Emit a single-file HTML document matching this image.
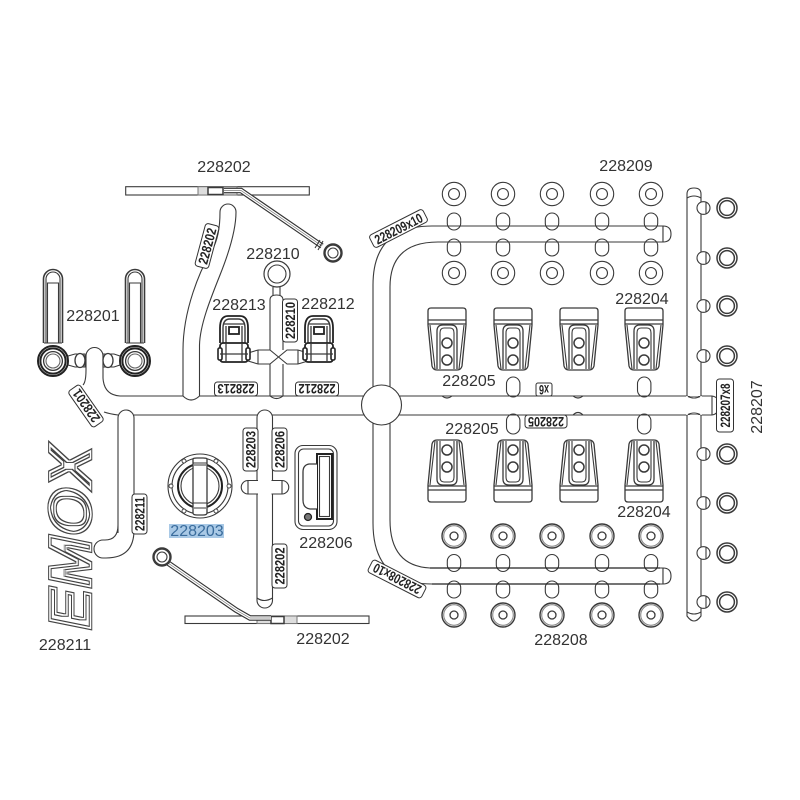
<!DOCTYPE html>
<html><head><meta charset="utf-8"><style>
html,body{margin:0;padding:0;background:#fff;width:800px;height:800px;overflow:hidden}
svg{display:block}
.s{fill:#fff;stroke:#3a3a3a;stroke-width:1.1}
.l{fill:none;stroke:#3a3a3a;stroke-width:1.1}
.t{font:16px "Liberation Sans",sans-serif;fill:#333;text-anchor:middle}
.b rect{fill:#fff;stroke:#333;stroke-width:1}
.b text{font:bold 13.5px "Liberation Sans",sans-serif;fill:#222;text-anchor:middle}
</style></head><body>
<svg width="800" height="800" viewBox="0 0 800 800" xmlns="http://www.w3.org/2000/svg">
<defs>
<filter id="o" x="-10%" y="-10%" width="120%" height="120%">
<feMorphology in="SourceGraphic" operator="erode" radius="0.8" result="a"/>
<feComposite in="SourceGraphic" in2="a" operator="out" result="r1"/>
<feMorphology in="SourceGraphic" operator="erode" radius="2.6" result="b"/>
<feMorphology in="SourceGraphic" operator="erode" radius="3.4" result="c"/>
<feComposite in="b" in2="c" operator="out" result="r2"/>
<feMerge><feMergeNode in="r1"/><feMergeNode in="r2"/></feMerge>
</filter>
<g id="ringT"><circle r="11.7" class="s"/><circle r="5.5" class="s"/></g>
<g id="ringB"><circle r="12" class="s" style="stroke-width:1.4"/><circle r="10.3" class="l" style="stroke:#888"/><circle r="4" class="s" style="stroke-width:1.3"/></g>
<rect id="nub" x="-6.7" y="0" width="13.4" height="17" rx="6.7" class="s"/>
<g id="ringR"><circle r="10" class="s" style="stroke-width:1.5"/><circle r="7.4" class="s" style="stroke-width:1.5"/></g>
<g id="nubR"><rect x="-7" y="-6.3" width="13" height="12.6" rx="6.3" class="s"/><path d="M2,-6 V6" class="l"/></g>
<g id="p204">
<path d="M-19,3 Q-19,0 -16,0 H16 Q19,0 19,3 V17 L15,58 Q14,62 10,62 H-10 Q-14,62 -15,58 L-19,17 Z" class="s" style="stroke-width:1.3"/>
<path d="M-19,12 H19 M-19,16 H19" class="l" style="stroke-width:1.3"/>
<path d="M-17,17 L-12,61 M17,17 L12,61" class="l"/>
<path d="M-10,61 V23 Q-10,17 -4,17 H4 Q10,17 10,23 V61" class="l" style="stroke-width:1.3"/>
<path d="M-7,61 V25 Q-7,20 -3,20 H3 Q7,20 7,25 V61" class="l"/>
<circle cy="35" r="5" class="s" style="stroke-width:1.5"/><circle cy="52" r="5" class="s" style="stroke-width:1.5"/>
</g>
<g id="node">
<path d="M-14,3 V-12 Q-14,-24 -6,-24 H6 Q14,-24 14,-12 V3" class="s" style="stroke-width:1.8;stroke:#222"/>
<path d="M-11,3 V-12 Q-11,-21 -4,-21 H4 Q11,-21 11,-12 V3" class="l" style="stroke-width:1.4"/>
<path d="M-8,3 V-14 M8,3 V-14 M-11,-16 H11" class="l" style="stroke-width:1.3"/>
<rect x="-5" y="-13" width="10" height="7" class="s" style="stroke-width:1.8;stroke:#222"/>
<rect x="-14" y="3" width="28" height="19" rx="3" class="s" style="stroke-width:1.8;stroke:#222"/>
<rect x="-16" y="8" width="4" height="12" rx="1.5" class="s" style="stroke-width:1.6;stroke:#222"/>
<rect x="12" y="8" width="4" height="12" rx="1.5" class="s" style="stroke-width:1.6;stroke:#222"/>
<path d="M-14,14 H14 M-8,3 V22 M8,3 V22" class="l" style="stroke-width:1.3"/>
</g>
<g id="rod">
<path d="M-9.5,-18 V-82 A9.5,9.5 0 0 1 9.5,-82 V-18" class="s" style="stroke-width:1.6"/>
<path d="M-7,-18 V-82 A7,7 0 0 1 7,-82 V-18" class="l"/>
<path d="M-5.5,-18 V-78 H5.500 V-18 M-9,-18 H9" class="l"/>
<circle r="15" class="s" style="stroke:#222;stroke-width:2"/>
<circle r="12.6" class="l" style="stroke:#222;stroke-width:2"/>
<circle r="9.4" class="s" style="stroke-width:1.3"/>
<circle r="7" class="s" style="stroke:#666"/>
</g>
</defs>

<!-- left / upper sprues -->
<path d="M86,358 V370 Q86,382 83,385 M103,362 V378 Q104,395 120,396 H372" class="l"/>
<path d="M104,412 Q110,414 118,415" class="l"/>
<path d="M134,415 H365 M399,396 H712 M399,415 H712" class="l"/>
<path d="M712,396 Q719,397 719,405 Q719,414 712,415 M712,396 V415" class="l"/>
<path d="M183,396 V350 C183,310 200,270 212,250 C218,240 220,225 220,212 A8,8 0 0 1 236,212 C236,230 228,255 220,275 C210,300 200,325 199.5,345 V396 Q191,404 183,396 Z" class="s"/>
<!-- J -->
<path d="M118,533 V418 A8,8 0 0 1 134,418 V530 Q134,558 106,558 H103 A9,9 0 0 1 103,540 H105 Q118,540 118,525" class="s"/>
<!-- centre vertical -->
<rect x="257" y="410" width="15.5" height="198" rx="7.7" class="s"/>
<path d="M257,598 Q264,603 272.500,598" class="l"/>
<path d="M258,480.500 H248 A6.500,6.500 0 0 0 248,494 H258 M271.500,480.500 H282 A6.500,6.500 0 0 1 282,494 H271.500 M248,480.500 V494 M282,480.500 V494" class="s"/>
<!-- 228210 sprue -->
<path d="M270,350 V300 Q270,295 276.500,295 Q283,295 283,300 V350 M270,364 V396 Q276.500,401 283,396 V364" class="l"/>
<path d="M258,350 H270 L287,364 H298 M258,364 H270 L287,350 H298 M258,350 V364 M298,350 V364 M248,353 L258,350 M248,361 L258,364 M298,350 L308,353 M298,364 L308,361" class="l"/>
<path d="M273,296 V287 M280,296 V287" class="l"/>
<circle cx="277" cy="274" r="13" class="s" style="stroke-width:1.2"/><circle cx="277" cy="274" r="9" class="s"/>
<use href="#node" x="234" y="340"/><use href="#node" x="319" y="340"/>
<!-- 228201 -->
<path d="M86,358 V356 A8.500,8.500 0 0 1 103,356 V360" class="s"/>
<path d="M68,356 L75,354 H85 V367 H75 L68,365 Z M103,354 H114 L120,356 V365 L114,367 H103 Z" class="s"/>
<ellipse cx="80" cy="360.500" rx="5" ry="7" class="s" style="stroke-width:1.3"/>
<ellipse cx="108" cy="360.500" rx="5" ry="7" class="s" style="stroke-width:1.3"/>
<use href="#rod" x="53" y="361"/><use href="#rod" x="135" y="361"/>

<!-- arms -->
<rect x="125.700" y="186.700" width="183.600" height="8.300" class="s"/>
<rect x="198" y="186.700" width="39" height="8.300" fill="#ddd" stroke="#777"/>
<rect x="208" y="187.500" width="15" height="7" class="s" style="stroke-width:1.5"/>
<path d="M224,190.500 H241 L322,246" fill="none" stroke="#333" stroke-width="5.6"/>
<path d="M224,190.500 H241 L322,246" fill="none" stroke="#fff" stroke-width="3.2"/>
<path d="M224,190.500 H241 L322,246" fill="none" stroke="#777" stroke-width="0.7"/>
<path d="M320,240 L315,248 M323,241 L318,250" class="l"/>
<circle cx="333" cy="253" r="8.500" class="s" style="stroke-width:2.4"/><circle cx="333" cy="253" r="5" class="s"/>
<rect x="185" y="616" width="184" height="7.500" class="s"/>
<rect x="257" y="616" width="40" height="7.500" fill="#ddd" stroke="#777"/>
<rect x="271" y="616.500" width="13" height="7" class="s" style="stroke-width:1.5"/>
<path d="M168,563 L236,610 L250,618 H271" fill="none" stroke="#333" stroke-width="5.6"/>
<path d="M168,563 L236,610 L250,618 H271" fill="none" stroke="#fff" stroke-width="3.2"/>
<path d="M168,563 L236,610 L250,618 H271" fill="none" stroke="#777" stroke-width="0.7"/>
<circle cx="162" cy="557" r="8.500" class="s" style="stroke-width:2.4"/><circle cx="162" cy="557" r="5" class="s"/>

<!-- 228203 part -->
<g transform="translate(200,486)">
<circle r="32" class="s"/><circle r="28" class="s"/>
<g class="s" style="stroke-width:.9"><circle cx="-29" r="2"/><circle cx="29" r="2"/><circle cx="-16" cy="-25" r="2"/><circle cx="16" cy="-25" r="2"/><circle cx="-16" cy="25" r="2"/><circle cx="16" cy="25" r="2"/></g>
<circle r="22" class="s" style="stroke:#222;stroke-width:2"/><circle r="19" class="l"/>
<path d="M-7,-27 Q-7,-28 -3,-28 H3 Q7,-28 7,-27 V27 Q7,29 3,29 H-3 Q-7,29 -7,27 Z" class="s" style="stroke-width:1.3"/>
<path d="M-7,-23 H7 M-6,-21 H6 M-6,22 H6 M-7,17 H7" class="l"/>
</g>
<!-- 228206 part -->
<rect x="295" y="445.500" width="42" height="84" rx="8" class="s"/>
<rect x="298.500" y="449" width="35" height="77" rx="5" class="s"/>
<rect x="317" y="454" width="15" height="65" class="s" style="stroke:#222;stroke-width:2"/>
<rect x="319.500" y="456.500" width="10" height="60" class="l"/>
<path d="M317,464 H309 Q303,465 303,472 V500 Q303,508 310,509 H317" class="s" style="stroke-width:1.3"/>
<circle cx="308" cy="517" r="3.500" fill="#777" stroke="#222" stroke-width="1.3"/>

<!-- right curved sprues -->
<path d="M373,392 V285 Q373,226 432,226 H663 V242 H438 Q390,242 390,287 V392" class="s"/>
<path d="M663,226 Q671,226 671,234 Q671,242 663,242 Z" class="s"/>
<path d="M373,420 V523 Q373,584 432,584 H663 V568 H430 Q390,566 390,520 V420" class="s"/>
<path d="M663,568 Q671,568 671,576 Q671,584 663,584 Z" class="s"/>
<!-- right vertical -->
<path d="M687,396 V194 Q687,188 694,188 Q701,188 701,194 V396 M687,415 V616 Q694,626 701,616 V415" class="s"/>
<path d="M687,198 Q694,194 701,198 M687,396 Q694,400 701,396 M687,415 Q694,411 701,415 M687,612 Q694,616 701,612" class="l"/>
<path d="M687,396 V415 M701,396 V415" stroke="#fff" stroke-width="1.5"/>
<!-- bumps main -->
<g class="l">
<path d="M442,396 Q447,400 452,396 M573,396 Q578,400 583,396"/>
<path d="M573,415 Q578,410 583,415"/>
</g>
<rect x="506.500" y="377" width="13.400" height="20" rx="6.7" class="s"/>
<rect x="637.500" y="377" width="13.400" height="20" rx="6.7" class="s"/>
<rect x="506.500" y="414" width="13.400" height="20" rx="6.7" class="s"/>
<rect x="637.500" y="414" width="13.400" height="20" rx="6.7" class="s"/>
<path d="M506.500,396 H520 M637.500,396 H651 M506.500,415 H520 M637.500,415 H651" class="l"/>
<circle cx="381.500" cy="405" r="20" class="s"/>

<!-- nubs -->
<use href="#nub" x="454" y="213"/><use href="#nub" x="503" y="213"/><use href="#nub" x="552" y="213"/><use href="#nub" x="602" y="213"/><use href="#nub" x="651" y="213"/>
<use href="#nub" x="454" y="239"/><use href="#nub" x="503" y="239"/><use href="#nub" x="552" y="239"/><use href="#nub" x="602" y="239"/><use href="#nub" x="651" y="239"/>
<use href="#nub" x="454" y="554.500"/><use href="#nub" x="503" y="554.500"/><use href="#nub" x="552" y="554.500"/><use href="#nub" x="602" y="554.500"/><use href="#nub" x="651" y="554.500"/>
<use href="#nub" x="454" y="581"/><use href="#nub" x="503" y="581"/><use href="#nub" x="552" y="581"/><use href="#nub" x="602" y="581"/><use href="#nub" x="651" y="581"/>
<path d="M432,226 H660 M438,242 H660" class="l"/>
<path d="M430,568 H660 M432,584 H660" class="l" style="stroke:#222;stroke-width:1.3"/>
<!-- rings -->
<use href="#ringT" x="454" y="194"/><use href="#ringT" x="503" y="194"/><use href="#ringT" x="552" y="194"/><use href="#ringT" x="602" y="194"/><use href="#ringT" x="651" y="194"/>
<use href="#ringT" x="454" y="273"/><use href="#ringT" x="503" y="273"/><use href="#ringT" x="552" y="273"/><use href="#ringT" x="602" y="273"/><use href="#ringT" x="651" y="273"/>
<use href="#ringB" x="454" y="536"/><use href="#ringB" x="503" y="536"/><use href="#ringB" x="552" y="536"/><use href="#ringB" x="602" y="536"/><use href="#ringB" x="651" y="536"/>
<use href="#ringB" x="454" y="615"/><use href="#ringB" x="503" y="615"/><use href="#ringB" x="552" y="615"/><use href="#ringB" x="602" y="615"/><use href="#ringB" x="651" y="615"/>
<!-- right nubs and rings -->
<use href="#nubR" x="704" y="208"/><use href="#nubR" x="704" y="258"/><use href="#nubR" x="704" y="306"/><use href="#nubR" x="704" y="356"/>
<use href="#nubR" x="704" y="454"/><use href="#nubR" x="704" y="503"/><use href="#nubR" x="704" y="553"/><use href="#nubR" x="704" y="602"/>
<use href="#ringR" x="727" y="208"/><use href="#ringR" x="727" y="258"/><use href="#ringR" x="727" y="306"/><use href="#ringR" x="727" y="356"/>
<use href="#ringR" x="727" y="454"/><use href="#ringR" x="727" y="503"/><use href="#ringR" x="727" y="553"/><use href="#ringR" x="727" y="602"/>
<!-- 228204 parts -->
<use href="#p204" x="447" y="308"/><use href="#p204" x="513" y="308"/><use href="#p204" x="579" y="308"/><use href="#p204" x="644" y="308"/>
<g transform="translate(0,810) scale(1,-1)"><use href="#p204" x="447" y="308"/><use href="#p204" x="513" y="308"/><use href="#p204" x="579" y="308"/><use href="#p204" x="644" y="308"/></g>

<!-- tag labels -->
<g class="b">
<g transform="translate(207,246) rotate(-75)"><rect x="-22" y="-7" width="44" height="14" rx="3"/><text y="5" textLength="37" lengthAdjust="spacingAndGlyphs">228202</text></g>
<g transform="translate(290,320.500) rotate(-90)"><rect x="-21.500" y="-7.500" width="43" height="15" rx="3"/><text y="5" textLength="37" lengthAdjust="spacingAndGlyphs">228210</text></g>
<g transform="translate(236,389) rotate(180)"><rect x="-21.500" y="-7" width="43" height="14" rx="3"/><text y="5" textLength="37" lengthAdjust="spacingAndGlyphs">228213</text></g>
<g transform="translate(317,389) rotate(180)"><rect x="-21.500" y="-7" width="43" height="14" rx="3"/><text y="5" textLength="37" lengthAdjust="spacingAndGlyphs">228212</text></g>
<g transform="translate(86,406) rotate(-125)"><rect x="-22" y="-7" width="44" height="14" rx="3"/><text y="5" textLength="37" lengthAdjust="spacingAndGlyphs">228201</text></g>
<g transform="translate(250.500,449.500) rotate(-90)"><rect x="-21.500" y="-7.500" width="43" height="15" rx="3"/><text y="5" textLength="37" lengthAdjust="spacingAndGlyphs">228203</text></g>
<g transform="translate(279.500,449.500) rotate(-90)"><rect x="-21.500" y="-7.500" width="43" height="15" rx="3"/><text y="5" textLength="37" lengthAdjust="spacingAndGlyphs">228206</text></g>
<g transform="translate(279.500,566) rotate(-90)"><rect x="-22" y="-7.500" width="44" height="15" rx="3"/><text y="5" textLength="37" lengthAdjust="spacingAndGlyphs">228202</text></g>
<g transform="translate(139.500,514) rotate(-90)"><rect x="-20" y="-7.500" width="40" height="15" rx="3"/><text y="5" textLength="34" lengthAdjust="spacingAndGlyphs">228211</text></g>
<g transform="translate(398.500,228.500) rotate(-27)"><rect x="-30" y="-7" width="60" height="14" rx="3"/><text y="5" textLength="52" lengthAdjust="spacingAndGlyphs">228209x10</text></g>
<g transform="translate(397,579) rotate(207)"><rect x="-30" y="-7" width="60" height="14" rx="3"/><text y="5" textLength="52" lengthAdjust="spacingAndGlyphs">228208x10</text></g>
<g transform="translate(544,389.500) rotate(180)"><rect x="-8" y="-6.500" width="16" height="13" rx="2"/><text y="4.500" textLength="10" lengthAdjust="spacingAndGlyphs">x6</text></g>
<g transform="translate(546,421.500) rotate(180)"><rect x="-21" y="-6.500" width="42" height="13" rx="3"/><text y="4.500" textLength="36" lengthAdjust="spacingAndGlyphs">228205</text></g>
<g transform="translate(725,405.500) rotate(-90)"><rect x="-26.500" y="-8.500" width="53" height="17" rx="3"/><text y="5" textLength="44" lengthAdjust="spacingAndGlyphs">228207x8</text></g>
</g>

<!-- logo text -->
<text transform="translate(91,630) rotate(-90)" font-family="Liberation Sans,sans-serif" font-weight="bold" font-style="italic" font-size="60" textLength="184" lengthAdjust="spacingAndGlyphs" fill="#444" stroke="#444" stroke-width="2.6" filter="url(#o)">EMOX</text>

<!-- part number labels -->
<rect x="169" y="524" width="55" height="14" fill="#a9c9e6"/>
<g class="t">
<text x="224" y="172">228202</text>
<text x="273" y="259">228210</text>
<text x="239" y="310">228213</text>
<text x="328" y="309">228212</text>
<text x="93" y="321">228201</text>
<text x="197" y="536" style="fill:#3a6c9c">228203</text>
<text x="326" y="548">228206</text>
<text x="323" y="644">228202</text>
<text x="65" y="650">228211</text>
<text x="626" y="171">228209</text>
<text x="642" y="304">228204</text>
<text x="469" y="386">228205</text>
<text x="472" y="434">228205</text>
<text x="644" y="517">228204</text>
<text x="561" y="645">228208</text>
<text transform="translate(762,407) rotate(-90)">228207</text>
</g>
</svg>
</body></html>
